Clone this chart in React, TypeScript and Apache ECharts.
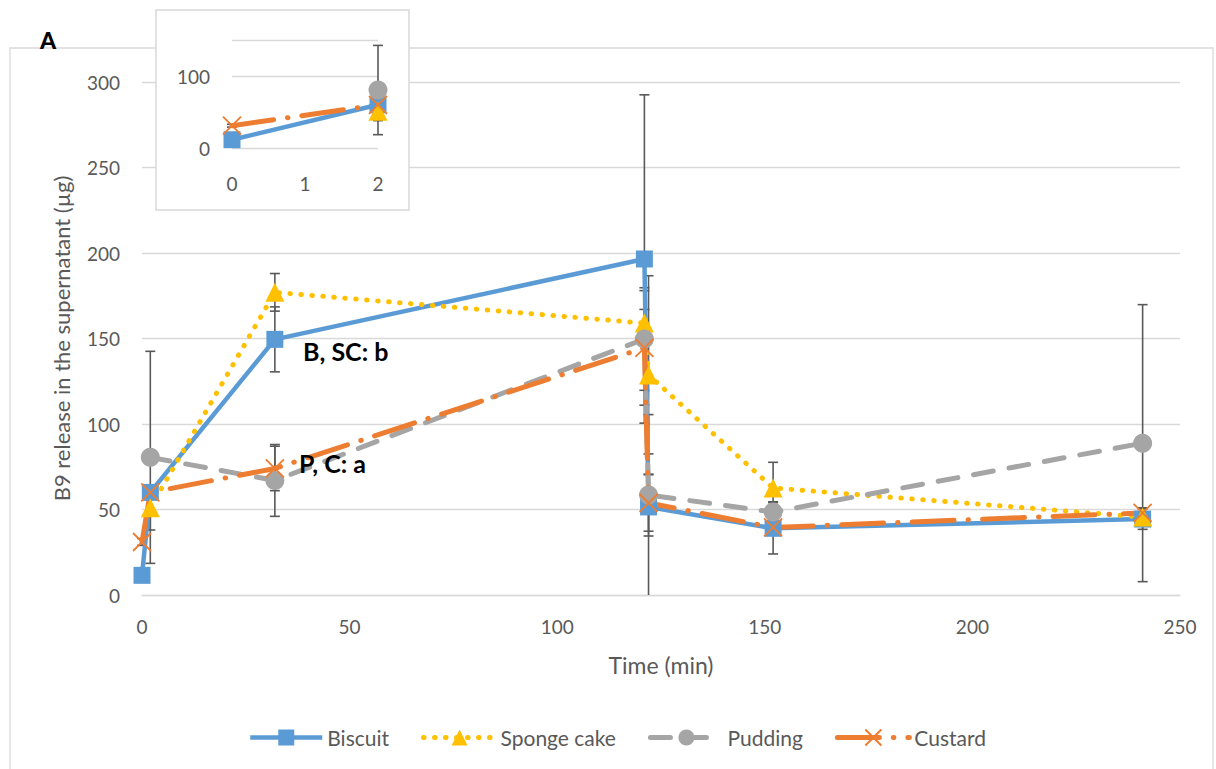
import React, { useEffect, useRef } from "react";
import * as echarts from "echarts";

// ---- data ----
const biscuitTime = [0, 2, 32, 121, 122, 152, 241];
const biscuitValue = [11.5, 60, 149.5, 196.5, 51.5, 39, 44.4];
const biscuitErr = [2, 3, 19, 96, 54, 15, 6];

const spongeTime = [2, 32, 121, 122, 152, 241];
const spongeValue = [51, 177, 159, 128.7, 62.6, 45.6];
const spongeErr = [13, 11, 8, 58, 15, 3];

const puddingTime = [2, 32, 121, 122, 152, 241];
const puddingValue = [80.5, 67, 149.7, 58.5, 48.5, 88.8];
const puddingErr = [62, 21, 30, 24, 6, 81];

const custardTime = [0, 2, 32, 121, 122, 152, 241];
const custardValue = [31, 60, 74, 144.5, 53.8, 39.5, 48];
const custardErr = [2, 3, 13, 33.5, 16.5, 3, 3];

const xTicks = [0, 50, 100, 150, 200, 250];
const yTicks = [0, 50, 100, 150, 200, 250, 300];
const insetXTicks = [0, 1, 2];
const insetYTicks = [0, 100];

const FONT = "Lato, 'Open Sans', sans-serif";
const TXT = "#595959";
const GRID = "#d9d9d9";

type S = { name: string; t: number[]; v: number[]; e: number[]; color: string; symbol: string; size: number; line: any };

const seriesDefs: S[] = [
  { name: "Biscuit", t: biscuitTime, v: biscuitValue, e: biscuitErr, color: "#5B9BD5", symbol: "rect", size: 17,
    line: { type: "solid", width: 4.5 } },
  { name: "Sponge cake", t: spongeTime, v: spongeValue, e: spongeErr, color: "#FFC000", symbol: "triangle", size: 19,
    line: { type: [0.5, 10.5], width: 5, cap: "round" } },
  { name: "Pudding", t: puddingTime, v: puddingValue, e: puddingErr, color: "#A5A5A5", symbol: "circle", size: 19,
    line: { type: [20, 16], width: 5, cap: "round" } },
  { name: "Custard", t: custardTime, v: custardValue, e: custardErr, color: "#ED7D31", symbol: "path://M0,0L10,10M10,0L0,10", size: 18,
    line: { type: [42, 14, 0.5, 14], width: 5, cap: "round" } },
];

function errData(maxX: number) {
  const out: number[][] = [];
  seriesDefs.forEach((s) => {
    s.t.forEach((t, i) => {
      if (t <= maxX) out.push([t, s.v[i] - s.e[i], s.v[i] + s.e[i]]);
    });
  });
  return out;
}

function renderErr(params: any, api: any) {
  const x = api.value(0);
  const rawLo = api.value(1);
  const lo = Math.max(rawLo, 0);
  const hi = api.value(2);
  const pLo = api.coord([x, lo]);
  const pHi = api.coord([x, hi]);
  const w = 5;
  const st = { stroke: "#595959", lineWidth: 1.6 };
  const children: any[] = [
    { type: "line", shape: { x1: pLo[0], y1: pLo[1], x2: pHi[0], y2: pHi[1] }, style: st },
    { type: "line", shape: { x1: pHi[0] - w, y1: pHi[1], x2: pHi[0] + w, y2: pHi[1] }, style: st },
  ];
  if (rawLo >= 0) {
    children.push({ type: "line", shape: { x1: pLo[0] - w, y1: pLo[1], x2: pLo[0] + w, y2: pLo[1] }, style: st });
  }
  return { type: "group", children };
}

function lineSeries(idx: number, z: number) {
  return seriesDefs.map((s) => ({
    name: s.name,
    type: "line",
    xAxisIndex: idx,
    yAxisIndex: idx,
    z,
    data: s.t.map((t, i) => [t, s.v[i]]),
    symbol: s.symbol,
    symbolSize: s.size,
    showAllSymbol: true,
    clip: true,
    lineStyle: { color: s.color, ...s.line },
    itemStyle: s.symbol.startsWith("path")
      ? { color: s.color, borderColor: s.color, borderWidth: 1.8 }
      : { color: s.color },
    emphasis: { disabled: true },
  }));
}

export default function App() {
  const ref = useRef<HTMLDivElement>(null);
  useEffect(() => {
    if (!ref.current) return;
    const chart = echarts.init(ref.current, undefined, { renderer: "svg" });
    const axisLabel = { color: TXT, fontSize: 19, fontFamily: FONT };
    chart.setOption({
      animation: false,
      backgroundColor: "#fff",
      textStyle: { fontFamily: FONT },
      grid: [
        { left: 142, right: 36, top: 82, bottom: 174 },
        { left: 232, top: 40, width: 146, height: 108, z: 3 },
      ],
      legend: {
        data: seriesDefs.map((s) => ({ name: s.name, lineStyle: { width: s.line.width } })),
        left: 243,
        top: 722,
        itemWidth: 72,
        itemHeight: 20,
        itemGap: 32,
        textStyle: { color: TXT, fontSize: 21, fontFamily: FONT },
      },
      xAxis: [
        {
          type: "value", gridIndex: 0, min: xTicks[0], max: xTicks[xTicks.length - 1], interval: 50,
          axisLine: { show: true, lineStyle: { color: GRID, width: 1.3 } },
          axisTick: { show: false },
          splitLine: { show: false },
          axisLabel: { ...axisLabel, margin: 22 },
          name: "Time (min)", nameLocation: "middle", nameGap: 58,
          nameTextStyle: { color: TXT, fontSize: 23, fontFamily: FONT },
        },
        {
          type: "value", gridIndex: 1, min: insetXTicks[0], max: insetXTicks[insetXTicks.length - 1], interval: 1, z: 3,
          axisLine: { show: false }, axisTick: { show: false }, splitLine: { show: false },
          axisLabel: { ...axisLabel, margin: 26 },
        },
      ],
      yAxis: [
        {
          type: "value", gridIndex: 0, min: yTicks[0], max: yTicks[yTicks.length - 1], interval: 50,
          axisLine: { show: false }, axisTick: { show: false },
          splitLine: { lineStyle: { color: GRID, width: 1.3 } },
          axisLabel: { ...axisLabel, margin: 22 },
          name: "B9 release in the supernatant (µg)", nameLocation: "middle", nameGap: 70,
          nameTextStyle: { color: TXT, fontSize: 22, fontFamily: FONT },
        },
        {
          type: "value", gridIndex: 1, min: 0, max: 150, interval: 100, z: 3,
          axisLine: { show: false }, axisTick: { show: false },
          splitLine: { lineStyle: { color: GRID, width: 1.3 } },
          axisLabel: { ...axisLabel, margin: 22, formatter: (v: number) => (insetYTicks.includes(v) ? String(v) : "") },
        },
      ],
      graphic: [
        { type: "rect", z: 0, shape: { x: 10, y: 48, width: 1203, height: 740 }, style: { fill: "none", stroke: GRID, lineWidth: 1.3 } },
        { type: "rect", z: 1, shape: { x: 156, y: 10, width: 253, height: 200 }, style: { fill: "#fff", stroke: GRID, lineWidth: 1.5 } },
        { type: "text", z: 5, left: 40, top: 28, style: { text: "A", font: `900 23px ${FONT}`, fill: "#000" } },
        { type: "text", z: 5, left: 303, top: 338, style: { text: "B, SC: b", font: `bold 25px ${FONT}`, fill: "#000" } },
        { type: "text", z: 5, left: 299, top: 450, style: { text: "P, C: a", font: `bold 25px ${FONT}`, fill: "#000" } },
      ],
      series: [
        {
          type: "custom", name: "err-main", xAxisIndex: 0, yAxisIndex: 0, z: 1,
          data: errData(1000), renderItem: renderErr, silent: true,
        },
        ...lineSeries(0, 2),
        {
          type: "custom", name: "err-inset", xAxisIndex: 1, yAxisIndex: 1, z: 3,
          data: errData(2), renderItem: renderErr, silent: true,
        },
        ...lineSeries(1, 4),
      ],
    });
    return () => chart.dispose();
  }, []);
  return <div ref={ref} style={{ position: "fixed", left: 0, top: 0, width: 1216, height: 769 }} />;
}
